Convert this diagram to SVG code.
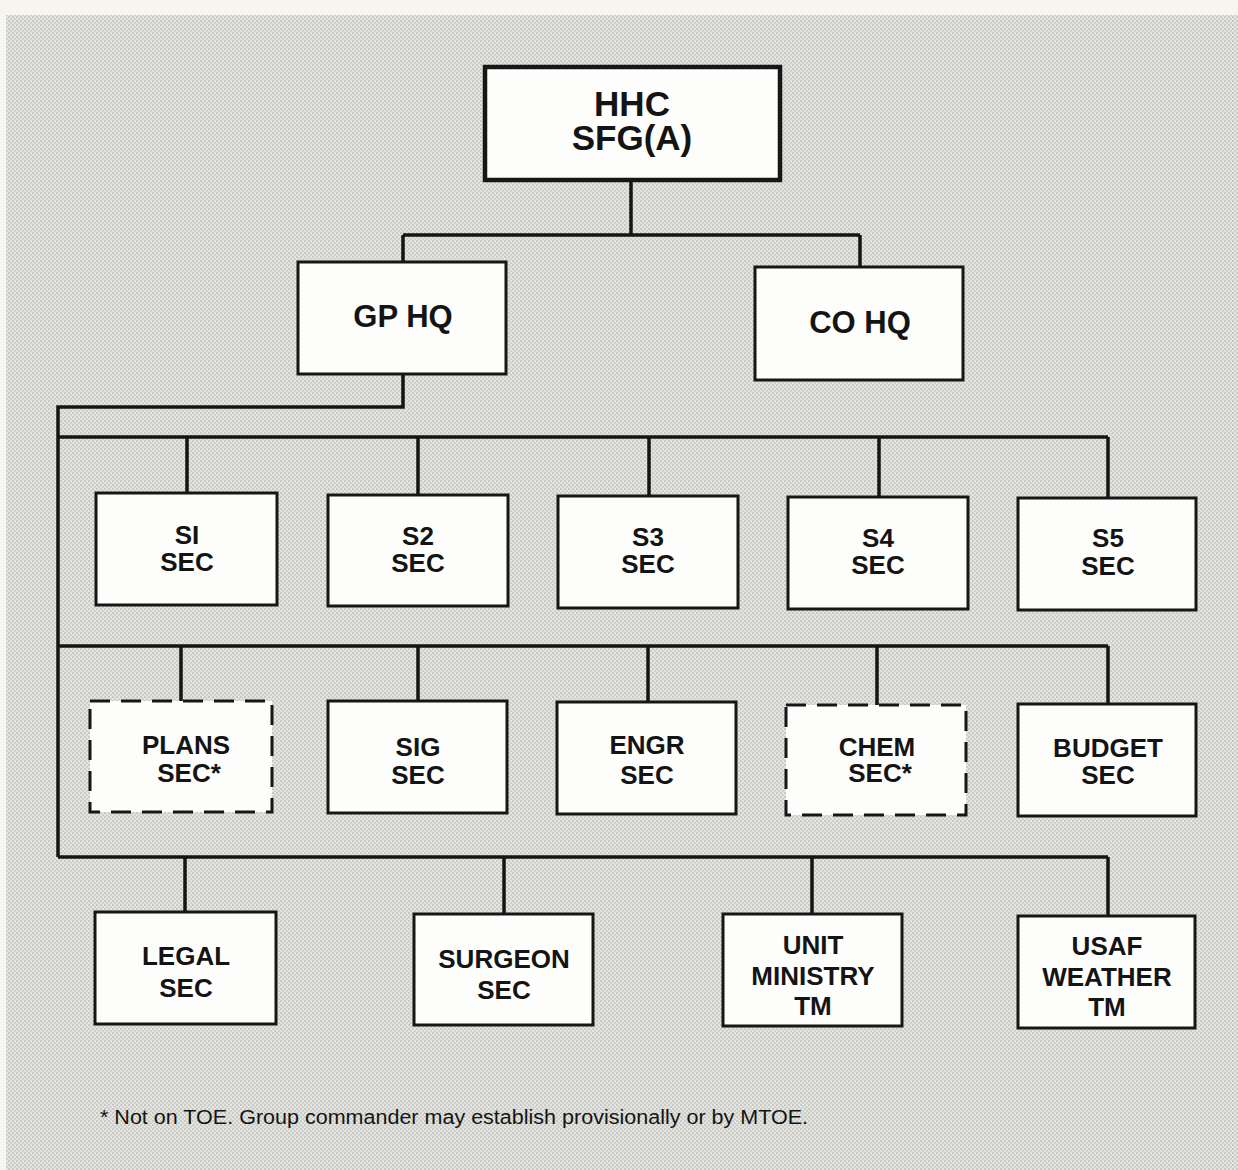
<svg xmlns="http://www.w3.org/2000/svg" width="1238" height="1170" viewBox="0 0 1238 1170">
<defs>
<pattern id="ht" width="4" height="4" patternUnits="userSpaceOnUse">
<rect width="4" height="4" fill="#e4e4e0"/>
<rect width="2" height="2" fill="#c9c9c6"/>
<rect x="2" y="2" width="2" height="2" fill="#cfcfcb"/>
</pattern>
</defs>
<style>
.box{fill:#fdfdfb;stroke:#161616;stroke-width:3}
.dash{fill:#fdfdfb;stroke:#161616;stroke-width:3;stroke-dasharray:20 11}
.t{font-family:"Liberation Sans",Arial,sans-serif;font-weight:bold;font-size:26px;fill:#141414;text-anchor:middle}
.conn{fill:none;stroke:#141414;stroke-width:3.5}
</style>
<rect width="1238" height="1170" fill="#f6f5ef"/>
<rect x="6" y="15" width="1232" height="1155" fill="url(#ht)"/>
<g id="connectors" class="conn">
<path d="M631,180 V235 M403,235 H860 M403,235 V262 M860,235 V267"/>
<path d="M403,374 V407 H58 V857"/>
<path d="M58,437 H1108 M187,437 V493 M418,437 V495 M649,437 V496 M879,437 V497 M1108,437 V498"/>
<path d="M58,646 H1108 M181,646 V701 M418,646 V701 M648,646 V702 M877,646 V705 M1108,646 V704"/>
<path d="M58,857 H1108 M185,857 V912 M504,857 V914 M812,857 V914 M1108,857 V916"/>
</g>
<g id="hhc"><rect class="box" x="485" y="67" width="295" height="113" style="stroke-width:4.5"/>
<text class="t" x="632" y="116" style="font-size:35px">HHC</text><text class="t" x="632" y="150" style="font-size:35px">SFG(A)</text></g>
<g id="gphq"><rect class="box" x="298" y="262" width="208" height="112"/><text class="t" x="403" y="327" style="font-size:31px">GP HQ</text></g>
<g id="cohq"><rect class="box" x="755" y="267" width="208" height="113"/><text class="t" x="860" y="333" style="font-size:31px">CO HQ</text></g>
<g id="s1"><rect class="box" x="96" y="493" width="181" height="112"/><text class="t" x="187" y="544">SI</text><text class="t" x="187" y="571">SEC</text></g>
<g id="s2"><rect class="box" x="328" y="495" width="180" height="111"/><text class="t" x="418" y="545">S2</text><text class="t" x="418" y="572">SEC</text></g>
<g id="s3"><rect class="box" x="558" y="496" width="180" height="112"/><text class="t" x="648" y="546">S3</text><text class="t" x="648" y="573">SEC</text></g>
<g id="s4"><rect class="box" x="788" y="497" width="180" height="112"/><text class="t" x="878" y="547">S4</text><text class="t" x="878" y="574">SEC</text></g>
<g id="s5"><rect class="box" x="1018" y="498" width="178" height="112"/><text class="t" x="1108" y="547">S5</text><text class="t" x="1108" y="575">SEC</text></g>
<g id="plans"><rect class="dash" x="90" y="701" width="182" height="111"/><text class="t" x="186" y="754">PLANS</text><text class="t" x="189" y="782">SEC*</text></g>
<g id="sig"><rect class="box" x="328" y="701" width="179" height="112"/><text class="t" x="418" y="756">SIG</text><text class="t" x="418" y="784">SEC</text></g>
<g id="engr"><rect class="box" x="557" y="702" width="179" height="112"/><text class="t" x="647" y="754">ENGR</text><text class="t" x="647" y="784">SEC</text></g>
<g id="chem"><rect class="dash" x="786" y="705" width="180" height="110"/><text class="t" x="877" y="756">CHEM</text><text class="t" x="880" y="782">SEC*</text></g>
<g id="budget"><rect class="box" x="1018" y="704" width="178" height="112"/><text class="t" x="1108" y="757">BUDGET</text><text class="t" x="1108" y="784">SEC</text></g>
<g id="legal"><rect class="box" x="95" y="912" width="181" height="112"/><text class="t" x="186" y="965">LEGAL</text><text class="t" x="186" y="997">SEC</text></g>
<g id="surgeon"><rect class="box" x="414" y="914" width="179" height="111"/><text class="t" x="504" y="968">SURGEON</text><text class="t" x="504" y="999">SEC</text></g>
<g id="unit"><rect class="box" x="723" y="914" width="179" height="112"/><text class="t" x="813" y="954">UNIT</text><text class="t" x="813" y="985">MINISTRY</text><text class="t" x="813" y="1015">TM</text></g>
<g id="usaf"><rect class="box" x="1018" y="916" width="177" height="112"/><text class="t" x="1107" y="955">USAF</text><text class="t" x="1107" y="986">WEATHER</text><text class="t" x="1107" y="1016">TM</text></g>
<text x="100" y="1124" style="font-family:'Liberation Sans',Arial,sans-serif;font-size:20px;fill:#141414" textLength="708" lengthAdjust="spacingAndGlyphs">* Not on TOE. Group commander may establish provisionally or by MTOE.</text>
</svg>
